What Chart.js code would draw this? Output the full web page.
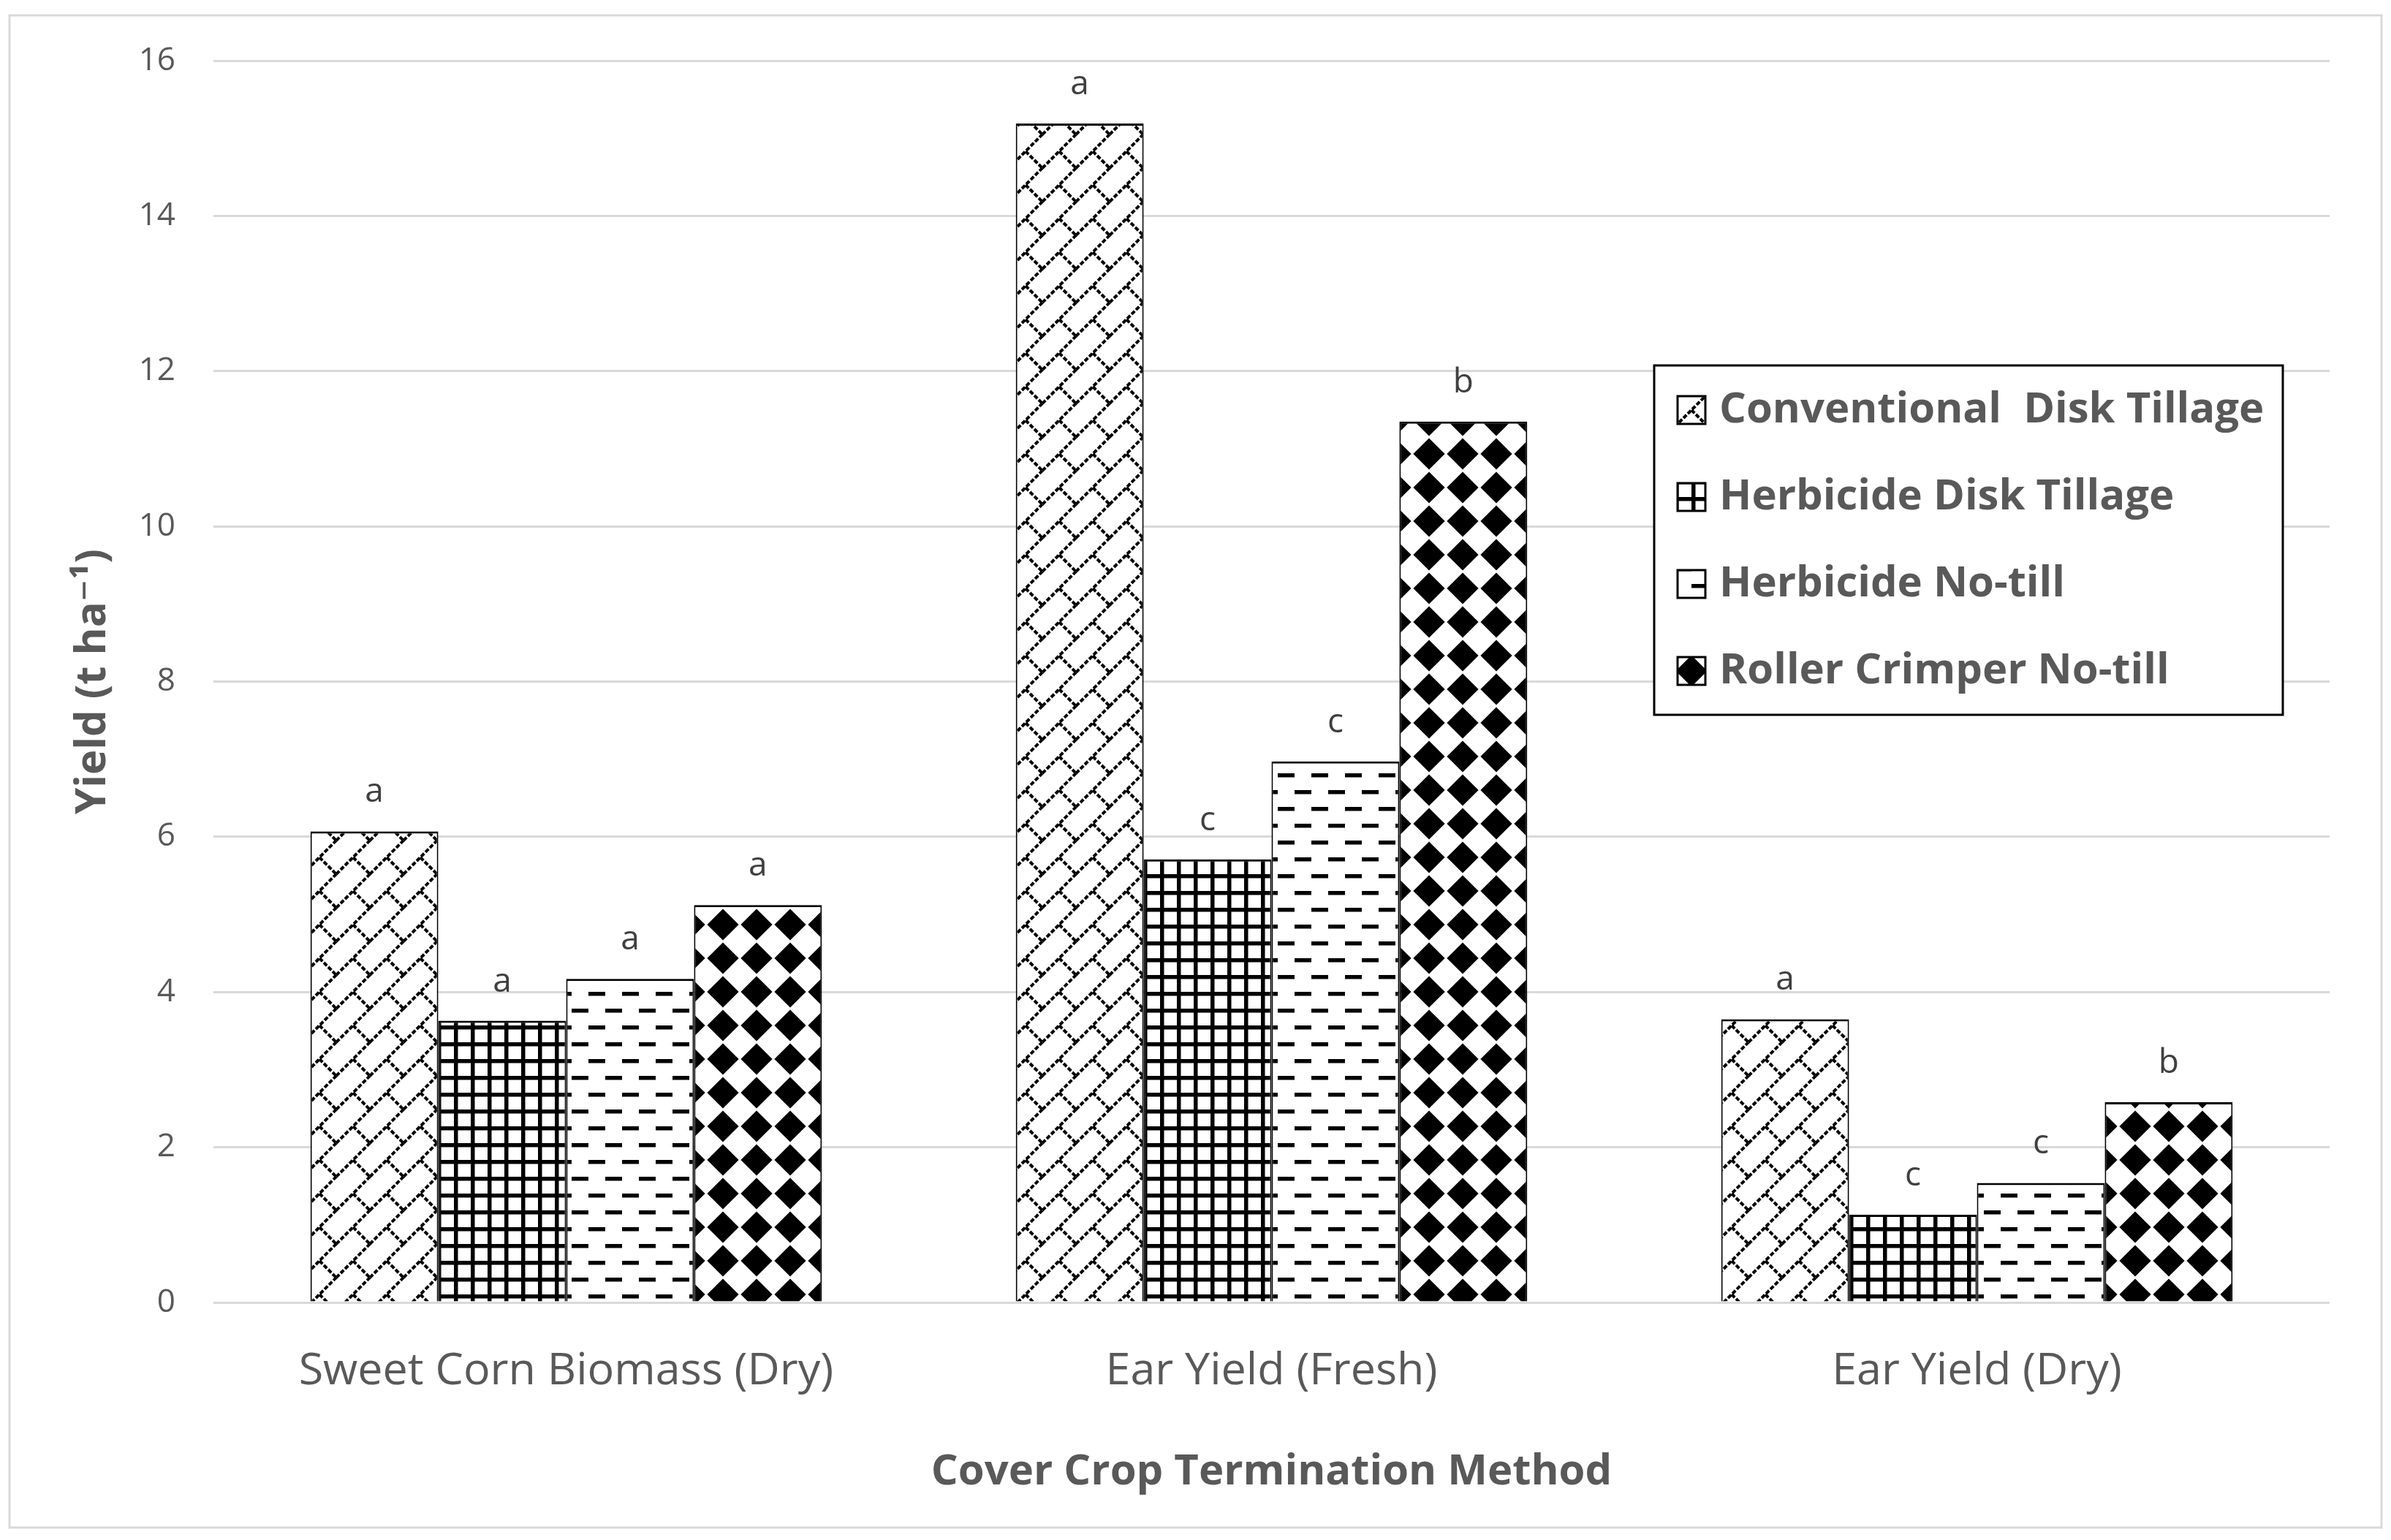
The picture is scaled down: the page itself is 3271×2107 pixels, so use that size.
<!DOCTYPE html>
<html>
<head>
<meta charset="utf-8">
<style>
html,body{margin:0;padding:0;background:#fff;overflow:hidden}
canvas{display:block}
</style>
<script src="https://cdn.jsdelivr.net/npm/chart.js@4.4.1/dist/chart.umd.min.js"></script>
</head>
<body>
<canvas id="c" width="3271" height="2107" style="width:3271px;height:2107px"></canvas>
<script>
// ---- data ----
const categories = ['Sweet Corn Biomass (Dry)', 'Ear Yield (Fresh)', 'Ear Yield (Dry)'];
const seriesNames = ['Conventional  Disk Tillage', 'Herbicide Disk Tillage', 'Herbicide No-till', 'Roller Crimper No-till'];
const conventionalDisk = [6.07, 15.19, 3.65];
const herbicideDisk = [3.63, 5.71, 1.13];
const herbicideNoTill = [4.17, 6.97, 1.54];
const rollerCrimper = [5.12, 11.35, 2.58];
const conventionalLetters = ['a', 'a', 'a'];
const herbicideDiskLetters = ['a', 'c', 'c'];
const herbicideNoTillLetters = ['a', 'c', 'c'];
const rollerCrimperLetters = ['a', 'b', 'b'];
const yMin = 0, yMax = 16, yStep = 2;
const xTitle = 'Cover Crop Termination Method';
const yTitle = 'Yield (t ha\u207B\u00B9)';

const FONT = '"Open Sans", "DejaVu Sans", sans-serif';
const TXT = '#595959';

// ---- patterns ----
const T = 46;
function makeTile(draw) {
  const c = document.createElement('canvas');
  c.width = T; c.height = T;
  const g = c.getContext('2d');
  g.fillStyle = '#fff'; g.fillRect(0, 0, T, T);
  g.fillStyle = '#000'; g.strokeStyle = '#000';
  draw(g);
  return c;
}
function brick(g) {
  g.lineWidth = 4;
  g.setLineDash([6, 2.5]);
  const shifts = [[0,0],[T,0],[-T,0],[0,T],[0,-T],[T,T],[-T,-T]];
  for (const [dx, dy] of shifts) {
    g.beginPath();
    g.moveTo(dx, dy + T); g.lineTo(dx + T, dy);
    g.moveTo(dx + T/2, dy + T/2); g.lineTo(dx + T, dy + T);
    g.stroke();
  }
}
function grid(g) {
  const w = 5.5, s = T / 2;
  for (let k = 0; k < 2; k++) { g.fillRect(k * s, 0, w, T); g.fillRect(0, k * s, T, w); }
}
function dashes(g) {
  const h = 5.5, L = T / 2;
  g.fillRect(0, 0, L, h);
  g.fillRect(T / 2, T / 2, L, h);
}
function diamond(g) {
  const c = T / 2, r = T * 0.47;
  g.beginPath();
  g.moveTo(c, c - r); g.lineTo(c + r, c); g.lineTo(c, c + r); g.lineTo(c - r, c);
  g.closePath(); g.fill();
}
const ctx0 = document.getElementById('c').getContext('2d');
const tiles = [makeTile(brick), makeTile(grid), makeTile(dashes), makeTile(diamond)];
const patterns = tiles.map(t => ctx0.createPattern(t, 'repeat'));

const seriesValues = [conventionalDisk, herbicideDisk, herbicideNoTill, rollerCrimper];
const seriesLetters = [conventionalLetters, herbicideDiskLetters, herbicideNoTillLetters, rollerCrimperLetters];

// ---- plugins ----
const framePlugin = {
  id: 'frame',
  beforeDraw(chart) {
    const c = chart.ctx;
    c.save();
    c.fillStyle = '#fff';
    c.fillRect(0, 0, chart.width, chart.height);
    c.strokeStyle = '#d9d9d9';
    c.lineWidth = 3;
    c.strokeRect(13, 21, 3245, 2069);
    c.restore();
  }
};
const lettersPlugin = {
  id: 'letters',
  afterDatasetsDraw(chart) {
    const c = chart.ctx;
    c.save();
    c.font = '46px ' + FONT;
    c.fillStyle = '#404040';
    c.textAlign = 'center';
    c.textBaseline = 'alphabetic';
    chart.data.datasets.forEach((ds, i) => {
      const meta = chart.getDatasetMeta(i);
      meta.data.forEach((el, j) => {
        c.fillText(ds.letters[j], el.x, el.y - 40);
      });
    });
    c.restore();
  }
};
const legendPlugin = {
  id: 'boxLegend',
  afterDraw(chart) {
    const c = chart.ctx;
    const lx = 2263, ly = 500, lw = 860, lh = 478;
    c.save();
    c.fillStyle = '#fff';
    c.fillRect(lx, ly, lw, lh);
    c.strokeStyle = '#000';
    c.lineWidth = 3;
    c.strokeRect(lx, ly, lw, lh);
    c.font = 'bold 58px ' + FONT;
    c.textBaseline = 'middle';
    c.textAlign = 'left';
    chart.data.datasets.forEach((ds, i) => {
      const cy = 561 + i * 119;
      const sx = 2295, sy = cy - 19, ss = 38;
      const p = ctx0.createPattern(tiles[i], 'repeat');
      p.setTransform(new DOMMatrix().translate(sx - 4, sy - 4));
      c.fillStyle = p;
      c.fillRect(sx, sy, ss, ss);
      c.lineWidth = 3;
      c.strokeStyle = '#000';
      c.strokeRect(sx, sy, ss, ss);
      c.fillStyle = TXT;
      c.fillText(ds.label, 2352, cy);
    });
    c.restore();
  }
};

function build() {
  const padLeft = 40, padBottom = 28;
  new Chart(document.getElementById('c'), {
    type: 'bar',
    data: {
      labels: categories,
      datasets: seriesValues.map((vals, i) => ({
        label: seriesNames[i],
        data: vals,
        letters: seriesLetters[i],
        backgroundColor: patterns[i],
        borderColor: '#000',
        borderWidth: { top: 3, left: 2, right: 2, bottom: 0 },
        borderSkipped: false,
        categoryPercentage: 0.725,
        barPercentage: 1.0
      }))
    },
    options: {
      responsive: false,
      devicePixelRatio: 1,
      animation: false,
      events: [],
      layout: { padding: { left: padLeft, right: 84, top: 83, bottom: padBottom } },
      plugins: {
        legend: { display: false },
        tooltip: { enabled: false },
        title: { display: false }
      },
      scales: {
        x: {
          grid: { display: false, drawTicks: false },
          border: { display: false },
          ticks: { color: TXT, font: { family: FONT, size: 61 }, padding: 58, maxRotation: 0 },
          title: { display: true, text: xTitle, color: TXT, font: { family: FONT, size: 58, weight: 'bold' }, padding: { top: 0, bottom: 30 } },
          afterFit(s) { s.height = 2107 - padBottom - 1782; }
        },
        y: {
          min: yMin, max: yMax,
          ticks: { stepSize: yStep, color: TXT, font: { family: FONT, size: 44 }, padding: 52 },
          grid: { color: '#d9d9d9', lineWidth: 3, drawTicks: false },
          border: { display: false },
          title: { display: true, text: yTitle, color: TXT, font: { family: FONT, size: 58, weight: 'bold' }, padding: { top: 53, bottom: 0 } },
          afterFit(s) { s.width = 292 - padLeft; }
        }
      }
    },
    plugins: [framePlugin, lettersPlugin, legendPlugin]
  });
}

Promise.all([
  document.fonts.load('61px "Open Sans"'),
  document.fonts.load('bold 58px "Open Sans"')
]).then(build, build);
</script>
</body>
</html>
